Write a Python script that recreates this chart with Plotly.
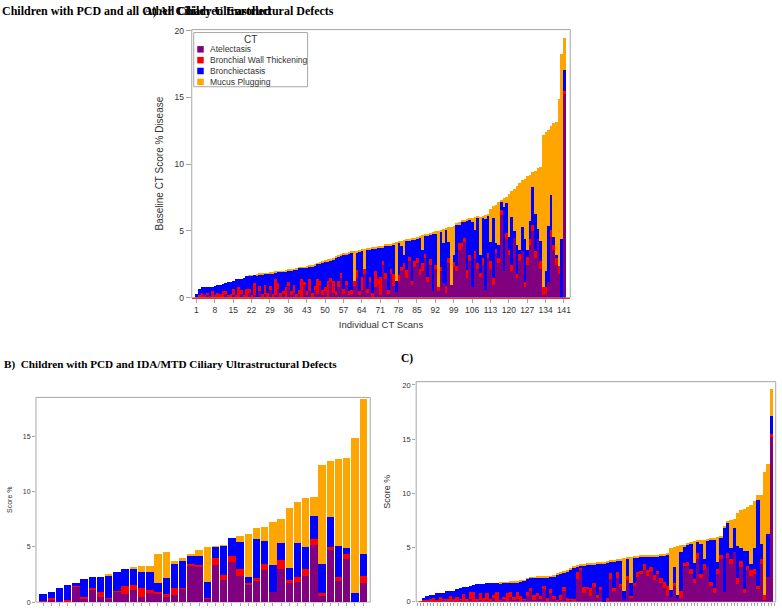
import plotly.graph_objects as go

# ---------------- data ----------------
series_names = ["Atelectasis", "Bronchial Wall Thickening", "Bronchiectasis", "Mucus Plugging"]
series_colors = ["#800080", "#ff0000", "#0000ff", "#ffa500"]

# Panel A: all children enrolled (scans sorted by total score)
A_scans = list(range(142))
A_tick_labels = [1, 8, 15, 22, 29, 36, 43, 50, 57, 64, 71, 78, 85, 92, 99, 106, 113, 120, 127, 134, 141]
A_atel = [
    0, 0, 0.1, 0.05, 0.1, 0.2, 0.05, 0.1, 0.1, 0.05,
    0.1, 0.0, 0.3, 0.1, 0.0, 0.2, 0.05, 0.1, 0.3, 0.05,
    0.1, 0.4, 0.05, 0.2, 0.0, 0.5, 0.1, 0.3, 0.05, 0.6,
    0.1, 0.2, 0.7, 0.1, 0.3, 0.05, 0.9, 0.2, 0.4, 0.1,
    0.3, 0.1, 1.0, 0.2, 0.5, 0.1, 0.6, 0.3, 1.0, 0.2,
    0.5, 0.1, 1.2, 0.4, 0.2, 0.8, 1.5, 0.3, 1.0, 0.2,
    0.3, 0.9, 1.5, 0.2, 0.6, 1.8, 0.4, 1.2, 0.1, 0.8,
    1.0, 0.2, 2.5, 1.4, 0.3, 1.8, 0.9, 0.45, 1.2, 2.0,
    2.2, 1.5, 2.8, 1.0, 2.3, 2.6, 1.7, 2.0, 3.0, 1.2,
    2.5, 0.5, 2.2, 0.5, 2.0, 1.1, 0.4, 2.6, 1.0, 2.3,
    2.0, 3.6, 3.8, 4.2, 1.5, 2.8, 0.8, 3.0, 2.2, 1.6,
    2.5, 0.6, 3.0, 2.2, 1.0, 3.4, 2.6, 6.2, 2.0, 4.4,
    3.2, 2.0, 4.5, 1.5, 2.8, 3.5, 0.8, 2.5, 4.0, 5.0,
    3.0, 4.4, 2.2, 0.2, 0.3, 1.2, 4.6, 3.6, 2.5, 1.8, 0.0, 15.3]
A_bwt = [
    0, 0.1, 0.1, 0.3, 0.1, 0.2, 0.1, 0.4, 0.15, 0.3,
    0.2, 0.5, 0.2, 0.1, 0.3, 0.5, 0.2, 0.7, 0.3, 0.2,
    0.6, 0.3, 0.2, 0.9, 0.1, 0.4, 0.2, 0.7, 0.3, 0.3,
    0.2, 1.2, 0.4, 0.3, 0.2, 0.8, 0.3, 0.3, 0.6, 0.2,
    0.3, 1.3, 0.2, 0.3, 0.9, 0.3, 0.3, 1.1, 0.3, 0.4,
    0.3, 1.2, 0.3, 0.9, 0.3, 0.5, 0.4, 0.4, 0.3, 0.3,
    0.3, 0.4, 0.6, 0.3, 1.0, 0.4, 0.3, 0.4, 0.3, 1.2,
    0.4, 1.4, 0.3, 0.5, 0.3, 0.4, 0.9, 0.0, 0.5, 0.3,
    0.4, 0.6, 0.3, 0.3, 0.5, 0.4, 0.5, 0.6, 0.3, 0.4,
    0.4, 0.0, 0.3, 0.3, 0.3, 0.0, 0.5, 0.4, 0.0, 0.4,
    0.4, 0.5, 0.3, 0.3, 0.6, 0.4, 0.0, 0.5, 0.4, 0.3,
    0.5, 0.0, 0.4, 0.6, 0.5, 0.3, 0.4, 0.4, 0.0, 0.5,
    0.4, 0.5, 0.0, 0.3, 0.5, 0.0, 0.4, 0.6, 0.4, 0.5,
    0.5, 0.0, 0.6, 0.6, 0.5, 0.0, 0.5, 0.4, 0.5, 0.6, 0.0, 0.2]
A_bx = [
    0, 0.2, 0.5, 0.45, 0.6, 0.4, 0.65, 0.35, 0.65, 0.65,
    0.7, 0.55, 0.6, 1.0, 0.9, 0.6, 1.15, 0.6, 0.85, 1.25,
    0.95, 0.95, 1.4, 0.6, 1.6, 0.85, 1.45, 0.8, 1.45, 0.95,
    1.55, 0.5, 0.85, 1.55, 1.45, 1.1, 0.85, 1.55, 1.1, 1.85,
    1.65, 0.85, 1.05, 1.8, 0.95, 1.95, 1.5, 1.15, 1.25, 2.0,
    1.9, 1.4, 1.3, 1.55, 2.5, 1.8, 1.3, 2.5, 1.95, 2.85,
    2.8, 0.0, 1.3, 3.0, 1.95, 0.0, 2.9, 2.05, 3.3, 1.7,
    2.35, 2.2, 1.0, 2.0, 3.3, 1.75, 2.2, 0.8, 2.45, 1.6,
    0.65, 2.2, 1.2, 3.05, 1.6, 1.45, 2.3, 1.0, 1.35, 3.1,
    1.85, 4.3, 2.3, 0.0, 2.7, 3.05, 4.2, 1.2, 0.0, 0.5,
    3.1, 1.4, 1.6, 1.25, 3.7, 2.7, 4.9, 1.6, 3.4, 1.3,
    3.0, 5.3, 2.8, 1.4, 4.5, 0.4, 1.0, 0.6, 4.8, 2.2,
    1.0, 3.6, 0.5, 2.2, 0.3, 1.8, 3.2, 0.5, 1.4, 2.8,
    2.8, 0.8, 1.5, 0.0, 1.2, 4.2, 2.6, 0.6, 0.2, 0.0, 4.4, 1.6]
A_muc = [
    0, 0, 0, 0, 0, 0, 0, 0, 0, 0,
    0, 0, 0, 0, 0, 0, 0, 0, 0, 0,
    0, 0.05, 0.05, 0, 0.05, 0.05, 0.05, 0.05, 0.05, 0.05,
    0.05, 0.05, 0.05, 0.05, 0.05, 0.1, 0.05, 0.05, 0.05, 0.05,
    0.05, 0.05, 0.05, 0.05, 0.05, 0.05, 0.1, 0.05, 0.1, 0.15,
    0.1, 0.2, 0.15, 0.15, 0.1, 0.1, 0.1, 0.15, 0.15, 0.1,
    0.1, 2.2, 0.15, 0.1, 0.1, 1.5, 0.1, 0.1, 0.1, 0.1,
    0.1, 0.1, 0.1, 0.1, 0.1, 0.1, 0.1, 2.95, 0.1, 0.4,
    1.1, 0.1, 0.1, 0.1, 0.1, 0.1, 0.1, 1.1, 0.1, 0.1,
    0.1, 0.1, 0.2, 4.25, 0.1, 1.0, 0.1, 1.1, 4.35, 2.2,
    0.1, 0.2, 0.1, 0.1, 0.1, 0.1, 0.3, 0.95, 0.1, 2.9,
    0.15, 0.3, 0.1, 2.5, 0.9, 2.9, 3.2, 0.1, 0.7, 0.5,
    3.2, 1.9, 3.2, 4.4, 5.0, 3.5, 4.5, 5.5, 3.4, 1.1,
    3.2, 4.5, 5.5, 11.4, 10.4, 7.2, 5.2, 8.5, 10.0, 12.5, 13.9, 2.4]

# Panel B: IDA/MTD defects
B_scans = list(range(40))
B_atel = [0.05, 0.15, 0.05, 0.0, 1.35, 0.3, 1.05, 0.4, 0.3, 0.9,
          0.7, 1.1, 0.45, 0.8, 0.7, 0.4, 0.62, 1.2, 3.2, 3.15,
          0.3, 3.36, 1.96, 3.6, 2.35, 1.5, 1.95, 2.9, 0.9, 3.0,
          1.65, 1.8, 2.3, 5.1, 0.55, 4.65, 1.9, 3.9, 0.0, 1.7]
B_bwt = [0.05, 0.15, 0.0, 0.15, 0.1, 0.1, 0.2, 0.5, 0.05, 0.1,
         0.7, 0.4, 0.75, 0.3, 0.2, 0.3, 0.6, 0.05, 0.2, 0.2,
         0.05, 0.6, 0.5, 0.55, 0.6, 0.2, 0.15, 0.5, 0.0, 0.75,
         0.3, 0.4, 0.7, 0.6, 0.2, 0.3, 0.35, 0.45, 0.0, 0.65]
B_bx = [0.6, 0.6, 1.23, 1.34, 0.25, 1.62, 0.98, 1.33, 1.98, 1.65,
        1.58, 1.5, 1.45, 1.55, 0.75, 1.4, 2.15, 2.4, 0.8, 0.8,
        1.4, 1.0, 2.6, 1.6, 2.45, 0.5, 3.6, 2.1, 2.4, 1.6,
        1.1, 3.15, 1.95, 2.1, 2.7, 2.7, 2.75, 0.55, 0.75, 1.95]
B_muc = [0, 0, 0, 0, 0, 0, 0, 0, 0.12, 0,
         0, 0.05, 0.55, 0.55, 2.7, 2.36, 0.35, 0.34, 0.05, 0.5,
         3.2, 0.05, 0.05, 0, 0.52, 3.9, 1.0, 1.29, 3.93, 2.18,
         5.4, 3.7, 4.45, 1.7, 8.9, 5.1, 7.95, 8.15, 14.07, 14.05]

# Panel C: all other ultrastructural defects
C_scans = list(range(106))
C_atel = [
    0, 0.05, 0.05, 0.1, 0.05, 0.1, 0.05, 0.2, 0.1, 0.05,
    0.1, 0.05, 0.2, 0.05, 0.1, 0.3, 0.05, 0.1, 0.2, 0.05,
    0.2, 0.05, 0.4, 0.1, 0.05, 0.3, 0.1, 0.5, 0.2, 0.3,
    0.1, 0.2, 0.6, 1.0, 0.2, 0.6, 0.3, 1.2, 0.1, 0.8,
    0.3, 0.05, 0.2, 1.0, 0.1, 0.2, 0.0, 2.1, 3.0, 0.8,
    1.2, 0.6, 1.4, 0.4, 1.1, 0.05, 0.1, 2.1, 1.0, 2.2,
    1.4, 0.2, 2.0, 0.4, 1.5, 2.3, 2.6, 3.0, 2.4, 2.8,
    2.0, 2.6, 1.8, 1.3, 0.6, 0.5, 1.5, 0.3, 0.4, 3.3,
    3.3, 2.6, 1.8, 4.0, 2.2, 3.0, 3.2, 1.5, 0.8, 2.6,
    4.0, 0.9, 4.1, 3.5, 4.6, 1.7, 3.2, 0.8, 3.0, 2.4,
    2.6, 1.2, 3.5, 0.2, 2.3, 15.2]
C_bwt = [
    0.1, 0.15, 0.1, 0.2, 0.3, 0.1, 0.4, 0.1, 0.2, 0.5,
    0.2, 0.4, 0.1, 0.7, 0.2, 0.6, 0.9, 0.2, 0.6, 0.3,
    0.6, 0.2, 0.3, 0.8, 0.1, 0.2, 0.7, 0.4, 0.3, 0.6,
    0.5, 0.1, 0.3, 0.3, 0.5, 0.2, 0.3, 0.3, 0.3, 0.4,
    0.3, 0.1, 0.5, 0.4, 0.3, 0.1, 0.3, 0.7, 0.2, 0.6,
    0.2, 0.7, 0.4, 0.3, 0.3, 0.0, 0.3, 0.6, 0.3, 0.6,
    0.3, 0.0, 0.4, 0.2, 0.3, 0.5, 0.3, 0.5, 0.6, 0.4,
    0.5, 0.3, 0.4, 0.6, 0.9, 0.0, 0.3, 0.0, 0.6, 0.3,
    0.4, 0.5, 0.3, 0.5, 0.4, 0.5, 0.0, 0.4, 0.5, 0.5,
    0.3, 0.0, 0.4, 0.5, 0.0, 0.5, 0.6, 0.4, 0.3, 0.6,
    0.5, 0.3, 0.5, 0.5, 0.0, 0.3]
C_bx = [
    0, 0.1, 0.45, 0.37, 0.32, 0.6, 0.4, 0.55, 0.7, 0.5,
    0.76, 0.75, 1.0, 0.61, 1.06, 0.6, 0.65, 1.34, 0.84, 1.35,
    0.94, 1.51, 1.06, 0.88, 1.6, 1.27, 0.99, 0.91, 1.33, 0.95,
    1.3, 1.68, 1.25, 0.95, 1.55, 1.47, 1.68, 0.8, 1.9, 1.15,
    1.8, 2.4, 1.9, 1.3, 2.4, 2.7, 2.9, 0.45, 0.15, 2.0,
    2.05, 2.2, 1.7, 2.82, 2.15, 3.55, 3.25, 1.0, 2.45, 1.0,
    2.1, 0.85, 1.6, 1.2, 2.3, 1.35, 1.3, 0.7, 1.2, 1.02,
    1.75, 1.35, 2.1, 2.4, 2.85, 0.6, 1.4, 0.4, 3.6, 1.5,
    1.6, 2.3, 1.5, 1.05, 2.8, 0.5, 2.5, 3.9, 4.5, 0.6,
    1.7, 6.0, 2.8, 1.0, 2.2, 3.0, 1.2, 3.5, 1.4, 0.5,
    1.9, 7.9, 1.4, 0.0, 4.0, 1.7]
C_muc = [
    0, 0, 0, 0, 0, 0, 0, 0, 0, 0,
    0, 0, 0, 0, 0, 0, 0, 0, 0, 0,
    0, 0, 0, 0, 0.05, 0.05, 0.05, 0.05, 0.05, 0.05,
    0.05, 0.05, 0.05, 0.05, 0.05, 0.05, 0.05, 0.05, 0.05, 0.05,
    0.1, 0.1, 0.1, 0.1, 0.1, 0.1, 0.1, 0.1, 0.1, 0.1,
    0.1, 0.1, 0.1, 0.1, 0.1, 0.1, 0.1, 0.1, 0.1, 0.1,
    0.1, 3.0, 0.1, 2.35, 0.1, 0.1, 0.1, 0.1, 0.1, 0.1,
    0.1, 0.1, 0.1, 0.1, 0.1, 3.9, 1.9, 4.5, 0.65, 0.2,
    0.1, 0.1, 2.0, 0.1, 0.3, 1.75, 0.1, 0.1, 0.15, 2.3,
    0.1, 0.1, 0.1, 2.6, 0.9, 3.0, 3.5, 3.9, 4.1, 5.5,
    4.3, 0.45, 4.45, 11.3, 6.4, 2.5]

# ---------------- layout helpers (pixel -> paper) ----------------
W, H = 782, 611


def fx(px):
    return px / W


def fy(py):
    return 1 - py / H


AXIS_GREY = "#a6a6a6"
TEXT_GREY = "#333333"
SANS = "Liberation Sans, Arial, sans-serif"
SERIF = "Liberation Serif, Times New Roman, serif"

fig = go.Figure()

panels = [
    ("x", "y", A_scans, [A_atel, A_bwt, A_bx, A_muc], 1.0),
    ("x2", "y2", B_scans, [B_atel, B_bwt, B_bx, B_muc], 0.9),
    ("x3", "y3", C_scans, [C_atel, C_bwt, C_bx, C_muc], 1.0),
]
for xa, ya, xs, vals, w in panels:
    for name, color, v in zip(series_names, series_colors, vals):
        fig.add_trace(go.Bar(
            x=xs, y=v, name=name, width=w,
            marker=dict(color=color, line=dict(width=0)),
            xaxis=xa, yaxis=ya, showlegend=False, legendgroup=name,
        ))

common_y = dict(showgrid=False, zeroline=False, ticks="outside", tickcolor=AXIS_GREY,
                showline=False, dtick=5)

fig.update_layout(
    width=W, height=H, margin=dict(l=0, r=0, t=0, b=0),
    paper_bgcolor="white", plot_bgcolor="white",
    barmode="stack", bargap=0, showlegend=False,
    font=dict(family=SANS, color=TEXT_GREY),
    xaxis=dict(
        domain=[fx(192), fx(571)], range=[-0.8, 143.4], anchor="y",
        tickmode="array", tickvals=A_tick_labels, ticktext=[str(t) for t in A_tick_labels],
        ticks="outside", ticklen=4, tickcolor=AXIS_GREY, tickfont=dict(size=8.5),
        showline=True, linecolor="#e0302f", linewidth=1,
        showgrid=False, zeroline=False,
        title=dict(text="Individual CT Scans", font=dict(size=9.5), standoff=7),
    ),
    yaxis=dict(
        domain=[fy(298), fy(26)], range=[0, 20.07], anchor="x",
        ticklen=5, tickfont=dict(size=8.5),
        title=dict(text="Baseline CT Score % Disease", font=dict(size=10), standoff=9),
        **common_y,
    ),
    xaxis2=dict(
        domain=[fx(36), fx(370.7)], range=[-0.865, 39.86], anchor="y2",
        tickmode="linear", tick0=0, dtick=1, ticks="outside", ticklen=3,
        tickcolor=AXIS_GREY, showticklabels=False,
        showline=False, showgrid=False, zeroline=False,
    ),
    yaxis2=dict(
        domain=[fy(607), fy(399.3)], range=[0, 18.55], anchor="x2",
        ticklen=3, tickfont=dict(size=7),
        title=dict(text="Score %", font=dict(size=7), standoff=9),
        **common_y,
    ),
    xaxis3=dict(
        domain=[fx(416.7), fx(776.7)], range=[-1.28, 106.3], anchor="y3",
        tickmode="linear", tick0=0, dtick=1, ticks="outside", ticklen=3,
        tickcolor=AXIS_GREY, showticklabels=False,
        showline=False, showgrid=False, zeroline=False,
    ),
    yaxis3=dict(
        domain=[fy(606.7), fy(383.3)], range=[0, 20.3], anchor="x3",
        ticklen=3, tickfont=dict(size=7.5),
        title=dict(text="Score %", font=dict(size=9), standoff=10),
        **common_y,
    ),
)

# plot frames
for xr, yr in [("x", "y"), ("x2", "y2"), ("x3", "y3")]:
    fig.add_shape(type="rect", xref=f"{xr} domain", yref=f"{yr} domain",
                  x0=0, x1=1, y0=0, y1=1, line=dict(color=AXIS_GREY, width=1),
                  fillcolor="rgba(0,0,0,0)", layer="below")

# compact legend box (drawn with text and swatches)
fig.add_shape(type="rect", xref="paper", yref="paper",
              x0=fx(194), x1=fx(308), y0=fy(84), y1=fy(29),
              line=dict(color=AXIS_GREY, width=1), fillcolor="white", layer="above")
fig.add_annotation(x=fx(251), y=fy(36), xref="paper", yref="paper", text="CT",
                   showarrow=False, xanchor="center", yanchor="middle",
                   font=dict(size=10, color=TEXT_GREY, family=SANS))
legend_rows = [46, 57, 68, 79]
for name, color, ry in zip(series_names, series_colors, legend_rows):
    fig.add_shape(type="rect", xref="paper", yref="paper",
                  x0=fx(197.5), x1=fx(204), y0=fy(ry + 3.3), y1=fy(ry - 3.3),
                  line=dict(width=0), fillcolor=color, layer="above")
    fig.add_annotation(x=fx(208), y=fy(ry), xref="paper", yref="paper", text=name,
                       showarrow=False, xanchor="left", yanchor="middle",
                       font=dict(size=8.5, color=TEXT_GREY, family=SANS))

# panel titles (bold serif)
fig.add_annotation(x=0, y=fy(7), xref="paper", yref="paper",
                   text="<b>Children with PCD and all Other Ciliary Ultrastructural Defects</b>",
                   showarrow=False, xanchor="left", yanchor="middle",
                   font=dict(size=12, color="black", family=SERIF))
fig.add_annotation(x=fx(141.7), y=fy(7), xref="paper", yref="paper",
                   text="<b>A) All Children Enrolled</b>",
                   showarrow=False, xanchor="left", yanchor="middle",
                   font=dict(size=12, color="black", family=SERIF))
fig.add_annotation(x=fx(2), y=fy(366), xref="paper", yref="paper",
                   text="<b>B)\u00a0 Children with PCD and IDA/MTD Ciliary Ultrastructural Defects</b>",
                   showarrow=False, xanchor="left", yanchor="middle",
                   font=dict(size=11.2, color="black", family=SERIF))
fig.add_annotation(x=fx(400), y=fy(360), xref="paper", yref="paper",
                   text="<b>C)</b>",
                   showarrow=False, xanchor="left", yanchor="middle",
                   font=dict(size=11.5, color="black", family=SERIF))

fig.write_html(
    "out.html",
    config={"displayModeBar": False},
    post_script="document.body.style.margin='0';document.body.style.overflow='hidden';",
)
